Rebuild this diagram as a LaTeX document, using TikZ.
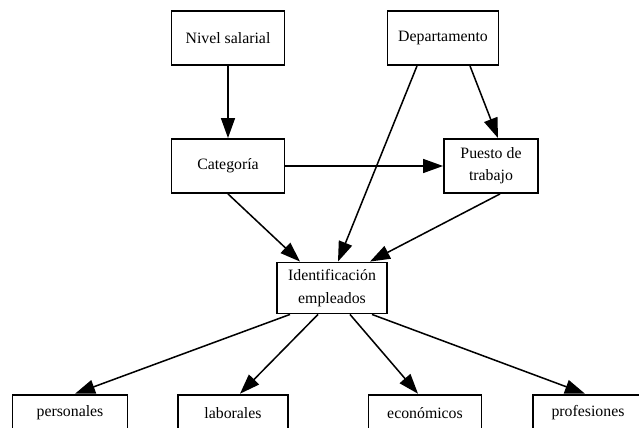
\documentclass[tikz,border=0pt]{standalone}
\usepackage{fontspec}
\setmainfont{Liberation Serif}
\usetikzlibrary{arrows.meta,calc}

\begin{document}
\begin{tikzpicture}[
  x=0.03cm, y=-0.03cm,
  box/.style={draw, line width=1.6pt, fill=white, inner sep=2pt,
              minimum height=1.62cm, align=center,
              font=\fontsize{13.5}{19}\selectfont},
  leaf/.style={box, minimum height=1.1cm},
  link/.style={line width=1.3pt, -{Triangle[length=6mm,width=4.2mm]}},
  >=Triangle
]
\useasboundingbox (0,0) rectangle (639,428);

% upper level
\node[box, minimum width=3.39cm] (nivel)  at (228,38)  {Nivel salarial};
\node[box, minimum width=3.33cm] (depto)  at (443,38)  {Departamento};
\node[box, minimum width=3.39cm] (categ)  at (228,166) {Categoría};
\node[box, minimum width=2.82cm] (puesto) at (491,166) {Puesto de\\trabajo};
\node[box, minimum width=3.30cm, minimum height=1.53cm] (ident) at (332,288)
  {Identificación\\empleados};

% lower level
\node[leaf, minimum width=3.45cm] (pers) at (70,413)  {personales};
\node[leaf, minimum width=3.30cm] (labo) at (233,413) {laborales};
\node[leaf, minimum width=3.39cm] (econ) at (425,413) {económicos};
\node[leaf, minimum width=3.30cm] (prof) at (588,413) {profesiones};

\draw[link] (nivel) -- (categ);
\draw[link] (categ) -- (puesto);
\draw[link] ($(depto.south)+(27,0)$) -- ($(puesto.north)+(7,0)$);
\draw[link] ($(depto.south)+(-26,0)$) -- ($(ident.north)+(6,0)$);
\draw[link] (categ.south) -- ($(ident.north)+(-32,0)$);
\draw[link] ($(puesto.south)+(9,0)$) -- ($(ident.north)+(38,0)$);

\draw[link] ($(ident.south)+(-42,0)$) -- ($(pers.north)+(5,0)$);
\draw[link] ($(ident.south)+(-14,0)$) -- ($(labo.north)+(7,0)$);
\draw[link] ($(ident.south)+(18,0)$)  -- ($(econ.north)+(-7,0)$);
\draw[link] ($(ident.south)+(40,0)$)  -- ($(prof.north)+(-3,0)$);
\end{tikzpicture}
\end{document}
